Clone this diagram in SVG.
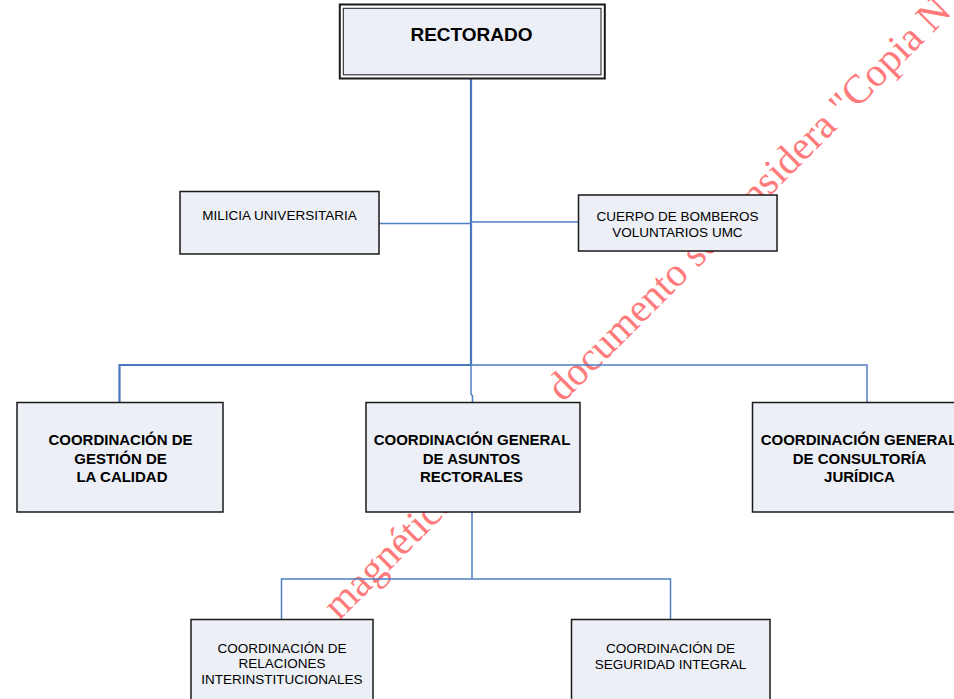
<svg xmlns="http://www.w3.org/2000/svg" width="954" height="699" viewBox="0 0 954 699">
<style>
  .box{fill:#eceff5;stroke:#1a1a1a;stroke-width:1.5}
  .t{font-family:"Liberation Sans",Arial,sans-serif;fill:#000;text-anchor:middle}
  .n{font-size:13.5px}
  .b{font-size:15px;font-weight:bold}
  .c{fill:none;stroke:#4f7fc3;stroke-width:1.5}
  .ct{fill:none;stroke:#4a78c0;stroke-width:2.2}
  .wm{font-family:"Liberation Serif","Times New Roman",serif;font-size:40.5px;fill:#ff7a7a}
</style>
<rect width="954" height="699" fill="#fff"/>
<g id="watermark">
  <text class="wm" transform="translate(339,621) rotate(-45)">magnética</text>
  <text class="wm" transform="translate(563,403) rotate(-45)">documento se considera "Copia N</text>
</g>
<g id="connectors">
  <path class="ct" d="M471,79 V365"/>
  <path class="c" d="M471,365 V394 L472.5,396 V402"/>
  <path class="c" d="M379,223.5 H471"/>
  <path class="c" d="M471,222 H579"/>
  <path class="ct" d="M119.5,402 V365 H471"/>
  <path class="c" d="M471,365 H867 V402"/>
  <path class="c" d="M472,512 V579"/>
  <path class="c" d="M281.5,619 V579 H670.5 V619"/>
</g>
<g id="rectorado">
  <rect x="339.8" y="4.5" width="265" height="74" fill="#fff" stroke="#1a1a1a" stroke-width="2"/>
  <rect x="343.3" y="8.3" width="257.7" height="66.5" fill="#eceff5" stroke="#1a1a1a" stroke-width="1"/>
  <text class="t" x="471.5" y="40.7" font-size="19" font-weight="bold">RECTORADO</text>
</g>
<g id="milicia">
  <rect class="box" x="180" y="191.5" width="199" height="62.5"/>
  <text class="t n" x="279.5" y="220">MILICIA UNIVERSITARIA</text>
</g>
<g id="bomberos">
  <rect class="box" x="578.5" y="195" width="198.5" height="56"/>
  <text class="t n" x="677.5" y="220.7">CUERPO DE BOMBEROS</text>
  <text class="t n" x="677.5" y="236.7">VOLUNTARIOS UMC</text>
</g>
<g id="calidad">
  <rect class="box" x="17" y="402.5" width="206" height="109.5"/>
  <text class="t b" x="120.5" y="445">COORDINACIÓN DE</text>
  <text class="t b" x="120.5" y="463.5">GESTIÓN DE</text>
  <text class="t b" x="122" y="482">LA CALIDAD</text>
</g>
<g id="asuntos">
  <rect class="box" x="366" y="402.5" width="214" height="109.5"/>
  <text class="t b" x="472" y="445">COORDINACIÓN GENERAL</text>
  <text class="t b" x="471.5" y="463.5">DE ASUNTOS</text>
  <text class="t b" x="471.5" y="482">RECTORALES</text>
</g>
<g id="juridica">
  <rect class="box" x="752.5" y="402.5" width="214" height="109.5"/>
  <text class="t b" x="859" y="445">COORDINACIÓN GENERAL</text>
  <text class="t b" x="859.5" y="463.5">DE CONSULTORÍA</text>
  <text class="t b" x="859.5" y="482">JURÍDICA</text>
</g>
<g id="relaciones">
  <rect class="box" x="191" y="619.5" width="182" height="90"/>
  <text class="t n" x="282" y="652.5">COORDINACIÓN DE</text>
  <text class="t n" x="282" y="668.3">RELACIONES</text>
  <text class="t n" x="282" y="684">INTERINSTITUCIONALES</text>
</g>
<g id="seguridad">
  <rect class="box" x="571.5" y="619.5" width="198.5" height="90"/>
  <text class="t n" x="670.5" y="652.5">COORDINACIÓN DE</text>
  <text class="t n" x="670.5" y="668.5">SEGURIDAD INTEGRAL</text>
</g>
</svg>
